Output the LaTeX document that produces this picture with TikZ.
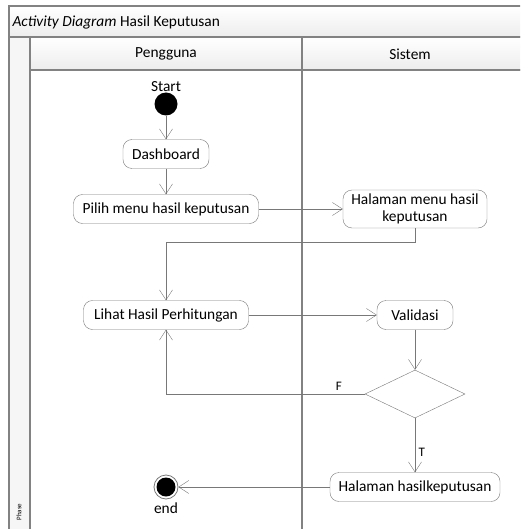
\documentclass[tikz,border=0pt]{standalone}
\usepackage{fontspec}
\setmainfont{Carlito}
\usetikzlibrary{shapes.geometric,arrows.meta,calc}
\definecolor{linegray}{RGB}{120,120,120}
\definecolor{framegray}{RGB}{130,130,130}
\tikzstyle{act}=[draw=linegray, rounded corners=9pt, minimum height=29pt, inner xsep=6pt, fill=white, align=center]
\tikzstyle{flow}=[draw=linegray, -{Straight Barb[length=10pt,width=13pt]}]
\tikzstyle{bar}=[draw=framegray, line width=1.2pt, top color=white, bottom color=gray!14]
\tikzstyle{lane}=[draw=framegray, line width=1.2pt]

\begin{document}
\begin{tikzpicture}[x=1pt,y=-1pt,font=\fontsize{15.4}{17}\selectfont]
\useasboundingbox (0,0) rectangle (520,529);
\clip (0,0) rectangle (520,529);
% frame and swimlanes
\draw[bar] (9,6) rectangle (540,37);
\draw[bar] (30,37) rectangle (540,70);
\draw[lane, fill=gray!7] (9,37) rectangle (30,545);
\draw[lane] (30,70) rectangle (540,545);
\draw[lane] (302,37) -- (302,545);
\node[anchor=west] (title) at (9,22) {\textit{Activity Diagram} Hasil Keputusan};
\foreach \n/\x/\t in {pengguna/166/Pengguna, sistem/410/Sistem} {
	\node (\n) at (\x,54) {\t};
}
\node[rotate=90, font=\fontsize{7}{8}\selectfont] (phase) at (19,512) {Phase};
% activities
\node[circle, fill=black, minimum size=23pt, inner sep=0pt] (start) at (166,104) {};
\node (startlbl) at (166,87) {Start};
\node[act, minimum width=86pt] (dash) at (166,154) {Dashboard};
\node[act, minimum width=185pt] (pilih) at (166,209) {Pilih menu hasil keputusan};
\node[act, minimum width=144pt, minimum height=38pt] (hmenu) at (415,209) {Halaman menu hasil\\keputusan};
\node[act, minimum width=165pt] (lihat) at (166,315) {Lihat Hasil Perhitungan};
\node[act, minimum width=76pt] (valid) at (415,315) {Validasi};
\node[diamond, draw=linegray, fill=white, minimum width=100pt, minimum height=48pt, inner sep=0pt] (dec) at (415,394) {};
\node[act, minimum width=170pt] (hasil) at (415,487) {Halaman hasilkeputusan};
\node[circle, draw=linegray, line width=0.8pt, fill=white, minimum size=24pt, inner sep=0pt] (end) at (166,487) {};
\fill[black] (end) circle (9.5pt);
\node (endlbl) at (166,508) {end};
\coordinate (b1) at (166,242);
\coordinate (b2) at (166,394);
% flows
\draw[flow] (start) -- (dash);
\draw[flow] (dash) -- (pilih);
\draw[flow] (pilih) -- (hmenu);
\draw[flow] (hmenu.south) |- (b1) -- (lihat);
\draw[flow] (lihat) -- (valid);
\draw[flow] (valid) -- (dec);
\draw[flow] (dec.west) -- node[above, pos=0.13, font=\fontsize{13}{15}\selectfont] {F} (b2) -- (lihat);
\draw[flow] (dec) -- node[right, pos=0.63, font=\fontsize{13}{15}\selectfont] {T} (hasil);
\draw[flow] (hasil) -- (end);
\end{tikzpicture}
\end{document}
